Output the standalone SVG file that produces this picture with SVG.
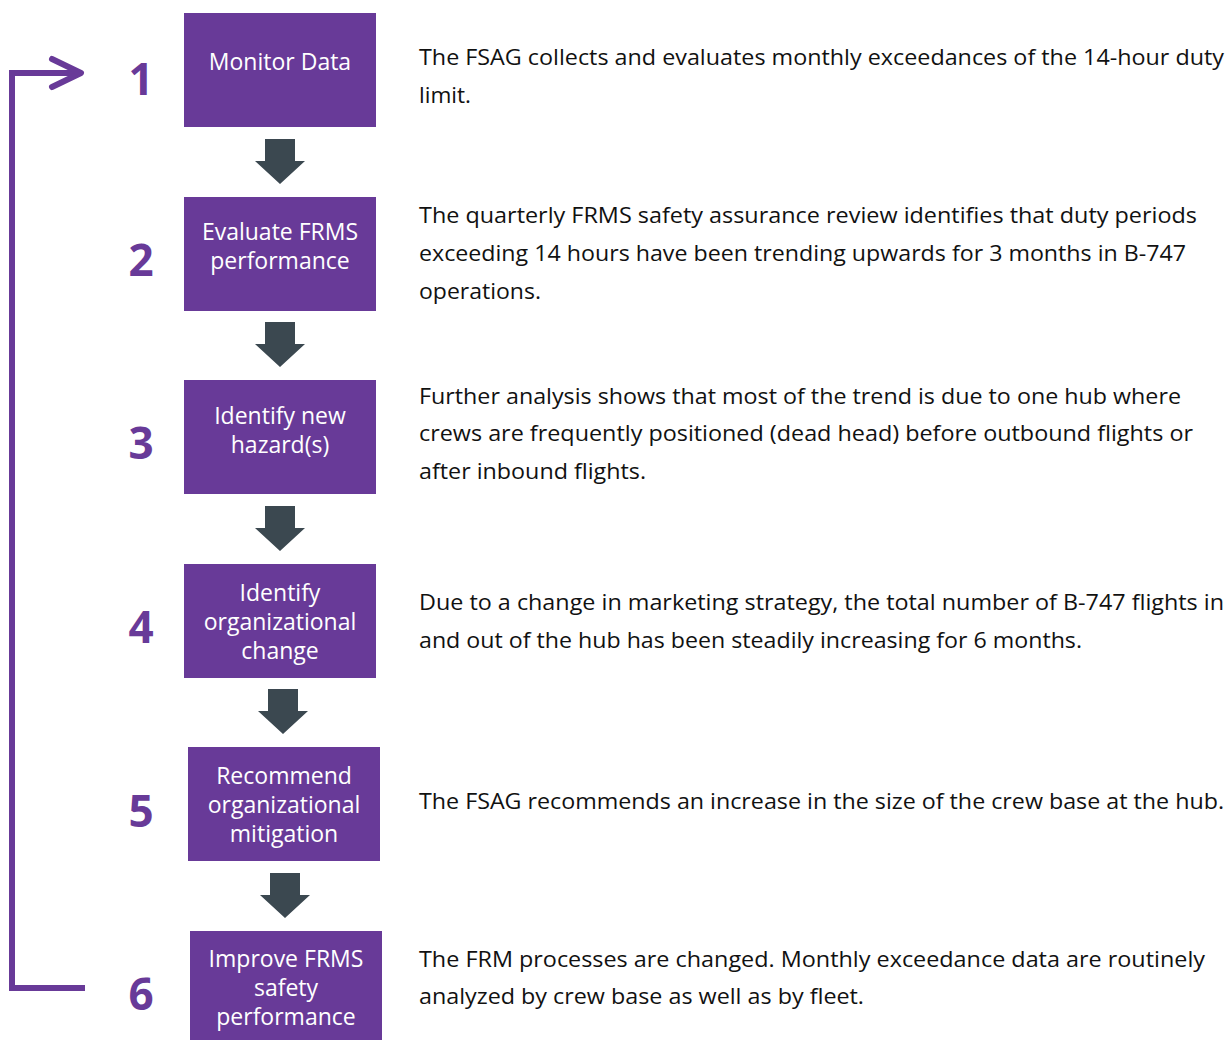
<svg xmlns="http://www.w3.org/2000/svg" width="1230" height="1040" viewBox="0 0 1230 1040">
<defs>
<style>
.box{fill:#683a98;}
.bt{font-family:"Open Sans","DejaVu Sans",sans-serif;font-size:23px;fill:#ffffff;text-anchor:middle;}
.num{font-family:"Open Sans","DejaVu Sans",sans-serif;font-size:44px;font-weight:bold;fill:#683a98;text-anchor:middle;}
.desc{font-family:"Open Sans","DejaVu Sans",sans-serif;font-size:21px;fill:#111111;}
.arr{fill:#3b4850;}
.loop{fill:none;stroke:#683a98;stroke-width:6;stroke-linecap:butt;stroke-linejoin:miter;}
.chev{fill:none;stroke:#683a98;stroke-width:6;stroke-linecap:round;stroke-linejoin:round;}
</style>
<path id="dn" d="M-15,0 H15 V22 H25 L0,45 L-25,22 H-15 Z"/>
</defs>
<rect width="1230" height="1040" fill="#ffffff"/>
<g id="connectors">
<use href="#dn" class="arr" x="280" y="139"/>
<use href="#dn" class="arr" x="280" y="322"/>
<use href="#dn" class="arr" x="280" y="506"/>
<use href="#dn" class="arr" x="283" y="689"/>
<use href="#dn" class="arr" x="285" y="873"/>
<polyline class="loop" points="85,988 12,988 12,73 80,73"/>
<polyline class="chev" points="52,59 81,73 52,87"/>
</g>
<g id="node1">
<rect class="box" x="184" y="13" width="192" height="114"/>
<text class="bt" x="280" y="70">Monitor Data</text>
<text class="num" x="141" y="95">1</text>
<text class="desc" x="419" y="65" textLength="805" lengthAdjust="spacingAndGlyphs">The FSAG collects and evaluates monthly exceedances of the 14-hour duty</text>
<text class="desc" x="419" y="103" textLength="52" lengthAdjust="spacingAndGlyphs">limit.</text>
</g>
<g id="node2">
<rect class="box" x="184" y="197" width="192" height="114"/>
<text class="bt" x="280" y="240">Evaluate FRMS</text>
<text class="bt" x="280" y="269">performance</text>
<text class="num" x="141" y="276">2</text>
<text class="desc" x="419" y="223" textLength="778" lengthAdjust="spacingAndGlyphs">The quarterly FRMS safety assurance review identifies that duty periods</text>
<text class="desc" x="419" y="261" textLength="767" lengthAdjust="spacingAndGlyphs">exceeding 14 hours have been trending upwards for 3 months in B-747</text>
<text class="desc" x="419" y="299" textLength="122" lengthAdjust="spacingAndGlyphs">operations.</text>
</g>
<g id="node3">
<rect class="box" x="184" y="380" width="192" height="114"/>
<text class="bt" x="280" y="424">Identify new</text>
<text class="bt" x="280" y="453">hazard(s)</text>
<text class="num" x="141" y="459">3</text>
<text class="desc" x="419" y="404" textLength="762" lengthAdjust="spacingAndGlyphs">Further analysis shows that most of the trend is due to one hub where</text>
<text class="desc" x="419" y="441" textLength="774" lengthAdjust="spacingAndGlyphs">crews are frequently positioned (dead head) before outbound flights or</text>
<text class="desc" x="419" y="479" textLength="227" lengthAdjust="spacingAndGlyphs">after inbound flights.</text>
</g>
<g id="node4">
<rect class="box" x="184" y="564" width="192" height="114"/>
<text class="bt" x="280" y="601">Identify</text>
<text class="bt" x="280" y="630">organizational</text>
<text class="bt" x="280" y="659">change</text>
<text class="num" x="141" y="643">4</text>
<text class="desc" x="419" y="610" textLength="805" lengthAdjust="spacingAndGlyphs">Due to a change in marketing strategy, the total number of B-747 flights in</text>
<text class="desc" x="419" y="648" textLength="663" lengthAdjust="spacingAndGlyphs">and out of the hub has been steadily increasing for 6 months.</text>
</g>
<g id="node5">
<rect class="box" x="188" y="747" width="192" height="114"/>
<text class="bt" x="284" y="784">Recommend</text>
<text class="bt" x="284" y="813">organizational</text>
<text class="bt" x="284" y="842">mitigation</text>
<text class="num" x="141" y="827">5</text>
<text class="desc" x="419" y="809" textLength="805" lengthAdjust="spacingAndGlyphs">The FSAG recommends an increase in the size of the crew base at the hub.</text>
</g>
<g id="node6">
<rect class="box" x="190" y="931" width="192" height="114"/>
<text class="bt" x="286" y="967">Improve FRMS</text>
<text class="bt" x="286" y="996">safety</text>
<text class="bt" x="286" y="1025">performance</text>
<text class="num" x="141" y="1010">6</text>
<text class="desc" x="419" y="967" textLength="786" lengthAdjust="spacingAndGlyphs">The FRM processes are changed. Monthly exceedance data are routinely</text>
<text class="desc" x="419" y="1004" textLength="445" lengthAdjust="spacingAndGlyphs">analyzed by crew base as well as by fleet.</text>
</g>
</svg>
